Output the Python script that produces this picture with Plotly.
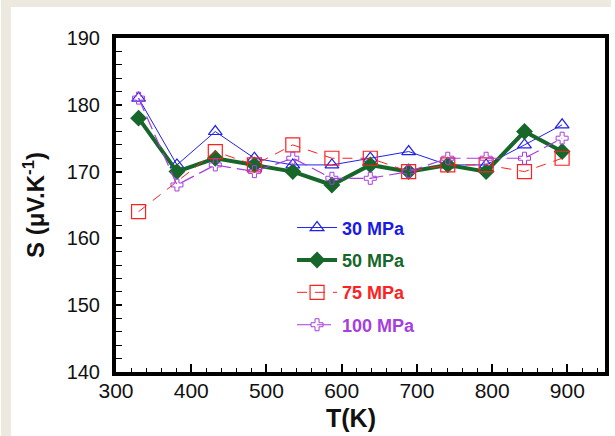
import plotly.graph_objects as go

# Temperature (K) and Seebeck coefficient (µV/K) for each sintering pressure
T = [330, 381, 432, 484, 535, 587, 638, 689, 741, 792, 843, 893]
s_30 = [181, 171, 176, 172, 171, 171, 172, 173, 171, 171, 174, 177]
s_50 = [178, 170, 172, 171, 170, 168, 171, 170, 171, 170, 176, 173]
s_75 = [164, None, 173, 171, 174, 172, 172, 170, 171, 171, 170, 172]
s_100 = [181, 168, 171, 170, 172, 169, 169, 170, 172, 172, 172, 175]

x_ticks = [300, 400, 500, 600, 700, 800, 900]
y_ticks = [140, 150, 160, 170, 180, 190]

BLUE = "#2020ee"
GREEN = "#17662a"
RED = "#ff2020"
PURPLE = "#a63ee0"

def label(text, color):
    return f"<b><span style='color:{color}'>{text}</span></b>"

fig = go.Figure()
fig.add_trace(go.Scatter(
    x=T, y=s_30, name=label("30 MPa", "#1a1ae6"), legendgroup="a",
    mode="lines+markers",
    line=dict(color=BLUE, width=1),
    marker=dict(symbol="triangle-up-open", size=12, color=BLUE, line=dict(width=1.2)),
))
fig.add_trace(go.Scatter(
    x=T, y=s_50, name=label("50 MPa", GREEN), legendgroup="b",
    mode="lines+markers",
    line=dict(color=GREEN, width=4),
    marker=dict(symbol="diamond", size=13, color=GREEN),
))
fig.add_trace(go.Scatter(
    x=T, y=s_75, name=label("75 MPa", RED), legendgroup="c",
    mode="lines+markers", connectgaps=True,
    line=dict(color=RED, width=1, dash="10px,8px"),
    marker=dict(symbol="square-open", size=14, color=RED, line=dict(width=1.2)),
))
fig.add_trace(go.Scatter(
    x=T, y=s_100, name=label("100 MPa", PURPLE), legendgroup="d",
    mode="lines+markers",
    line=dict(color=PURPLE, width=1.2, dash="14px,6px"),
    marker=dict(symbol="cross-open", size=10, color=PURPLE, line=dict(width=1)),
))

BEIGE = "#eee9de"
# framing strips along the top and left of the page
fig.add_shape(type="rect", xref="paper", yref="paper", layer="below",
              x0=-116 / 493, x1=-106 / 493, y0=-64 / 334, y1=372 / 334,
              fillcolor=BEIGE, line=dict(width=0))
fig.add_shape(type="rect", xref="paper", yref="paper", layer="below",
              x0=-116 / 493, x1=499 / 493, y0=365 / 334, y1=372 / 334,
              fillcolor=BEIGE, line=dict(width=0))

font_family = "Liberation Sans, Arial, sans-serif"

# x-axis title, placed as an annotation below the tick labels
fig.add_annotation(
    text="<b>T(K)</b>", xref="paper", yref="paper",
    x=(353 - 116) / 493, y=-(418 - 372) / 334,
    xanchor="center", yanchor="middle", showarrow=False,
    font=dict(size=25, family=font_family, color="#111111"),
)

fig.update_layout(
    width=615, height=436,
    margin=dict(l=116, r=6, t=38, b=64),
    paper_bgcolor="white", plot_bgcolor="white",
    font=dict(family=font_family, color="#111111"),
    showlegend=True,
    legend=dict(
        x=0.36, y=0.487, xanchor="left", yanchor="top",
        bgcolor="rgba(0,0,0,0)", borderwidth=0,
        font=dict(size=18, family=font_family),
        tracegroupgap=6, itemwidth=40,
    ),
    xaxis=dict(
        range=[300, 950], tickvals=x_ticks,
        showgrid=False, zeroline=False,
        showline=True, linecolor="black", linewidth=4, mirror=True,
        ticks="inside", ticklen=8, tickwidth=1.5, tickcolor="black",
        minor=dict(dtick=20, ticks="inside", ticklen=4, tickwidth=1.2,
                   tickcolor="black", showgrid=False),
        tickfont=dict(size=21), ticklabelstandoff=-3,
    ),
    yaxis=dict(
        range=[140, 190], tickvals=y_ticks,
        showgrid=False, zeroline=False,
        showline=True, linecolor="black", linewidth=4, mirror=True,
        ticks="inside", ticklen=6, tickwidth=1.5, tickcolor="black",
        minor=dict(dtick=2, ticks="inside", ticklen=6, tickwidth=1.2,
                   tickcolor="black", showgrid=False),
        tickfont=dict(size=20), ticklabelstandoff=8,
        title=dict(text="<b>S (μV.K<sup>-1</sup>)</b>", font=dict(size=24), standoff=16),
    ),
)

fig.write_html("out.html")
